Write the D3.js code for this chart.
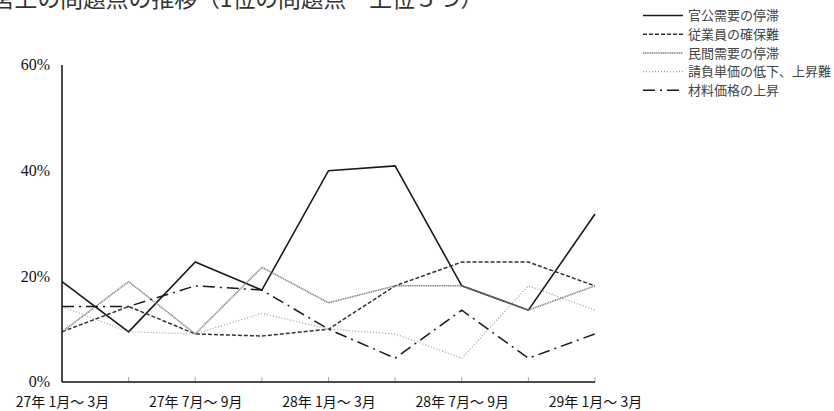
<!DOCTYPE html>
<html><head><meta charset="utf-8">
<script src="https://cdn.jsdelivr.net/npm/d3@7"></script>
<style>
html,body{margin:0;padding:0;background:#fff;overflow:hidden;}
svg{display:block;}
</style></head>
<body>
<svg id="chart" width="834" height="411"></svg>
<script>
const titleText = "経営上の問題点の推移（1位の問題点　上位５つ）";
const categories = ["27年 1月～ 3月","27年 4月～ 6月","27年 7月～ 9月","27年10月～12月","28年 1月～ 3月","28年 4月～ 6月","28年 7月～ 9月","28年10月～12月","29年 1月～ 3月"];
const shownLabels = ["27年 1月～ 3月","27年 7月～ 9月","28年 1月～ 3月","28年 7月～ 9月","29年 1月～ 3月"];
const yTicks = [0, 20, 40, 60];
const seriesNames = ["官公需要の停滞","従業員の確保難","民間需要の停滞","請負単価の低下、上昇難","材料価格の上昇"];
const kankouju = [19.0, 9.5, 22.7, 17.4, 40.0, 40.9, 18.2, 13.6, 31.8];
const juugyouin = [9.5, 14.3, 9.1, 8.7, 10.0, 18.2, 22.7, 22.7, 18.2];
const minkanju = [9.5, 19.0, 9.1, 21.7, 15.0, 18.2, 18.2, 13.6, 18.2];
const ukeoi = [14.3, 9.5, 9.1, 13.0, 10.0, 9.1, 4.5, 18.2, 13.6];
const zairyou = [14.3, 14.3, 18.2, 17.4, 10.0, 4.5, 13.6, 4.5, 9.1];
const seriesValues = [kankouju, juugyouin, minkanju, ukeoi, zairyou];

const styles = [
  {stroke:"#1a1a1a", width:1.6, dash:null},
  {stroke:"#333", width:1.5, dash:"4,2"},
  {stroke:"#808080", width:1.5, dash:"1.2,0.6"},
  {stroke:"#9a9a9a", width:1.2, dash:"1,2"},
  {stroke:"#1a1a1a", width:1.5, dash:"12,5,2,5"}
];

const svg = d3.select("#chart");
const x = d3.scalePoint().domain(categories).range([62, 595]);
const y = d3.scaleLinear().domain([0, 60]).range([382, 65]);

// title
svg.append("text").attr("x", -31).attr("y", 7)
  .attr("font-family", "'Noto Sans CJK JP', sans-serif").attr("font-size", 22.8)
  .attr("fill", "#333").text(titleText);

// lines
const line = d3.line().x((d,i)=>x(categories[i])).y(d=>y(d));
seriesValues.forEach((vals, k) => {
  const st = styles[k];
  svg.append("path").datum(vals).attr("d", line)
    .attr("fill","none").attr("stroke", st.stroke).attr("stroke-width", st.width)
    .attr("stroke-dasharray", st.dash).attr("stroke-linejoin","miter");
});

// x axis
const xAxis = d3.axisBottom(x).tickSize(0).tickFormat(d => shownLabels.includes(d) ? d : "");
const gx = svg.append("g").attr("transform", "translate(0,382)").call(xAxis);
gx.select(".domain").remove();
gx.selectAll("text").attr("font-family", "'Noto Sans CJK JP', sans-serif")
  .attr("font-size", 14).attr("fill", "#111").attr("dy", null).attr("y", 24.5);
svg.append("g").selectAll("line").data(categories.slice(1)).join("line")
  .attr("x1", d=>x(d)).attr("x2", d=>x(d)).attr("y1", 382).attr("y2", 377)
  .attr("stroke", "#aaa").attr("stroke-width", 1);
svg.append("line").attr("x1", 62).attr("x2", 595).attr("y1", 382).attr("y2", 382)
  .attr("stroke", "#111").attr("stroke-width", 1.5);

// y axis
const yAxis = d3.axisLeft(y).tickValues(yTicks).tickSize(0).tickFormat(d => d + "%");
const gy = svg.append("g").attr("transform", "translate(62,0)").call(yAxis);
gy.select(".domain").remove();
gy.selectAll("text").attr("font-family", "'Liberation Serif', serif")
  .attr("font-size", 16).attr("fill", "#111").attr("x", -12).attr("dy", "0.3em");
svg.append("line").attr("x1", 62).attr("x2", 62).attr("y1", 65).attr("y2", 382)
  .attr("stroke", "#111").attr("stroke-width", 1.5);

// legend
const lg = svg.append("g");
seriesNames.forEach((name, k) => {
  const st = styles[k];
  const yy = 15.5 + k * 18.7;
  lg.append("line").attr("x1", 643).attr("x2", 683).attr("y1", yy).attr("y2", yy)
    .attr("stroke", st.stroke).attr("stroke-width", st.width).attr("stroke-dasharray", st.dash);
  lg.append("text").attr("x", 688).attr("y", yy).attr("dy", "0.36em")
    .attr("font-family", "'Noto Sans CJK JP', sans-serif").attr("font-size", 13)
    .attr("fill", "#444").text(name);
});
</script>
</body></html>
